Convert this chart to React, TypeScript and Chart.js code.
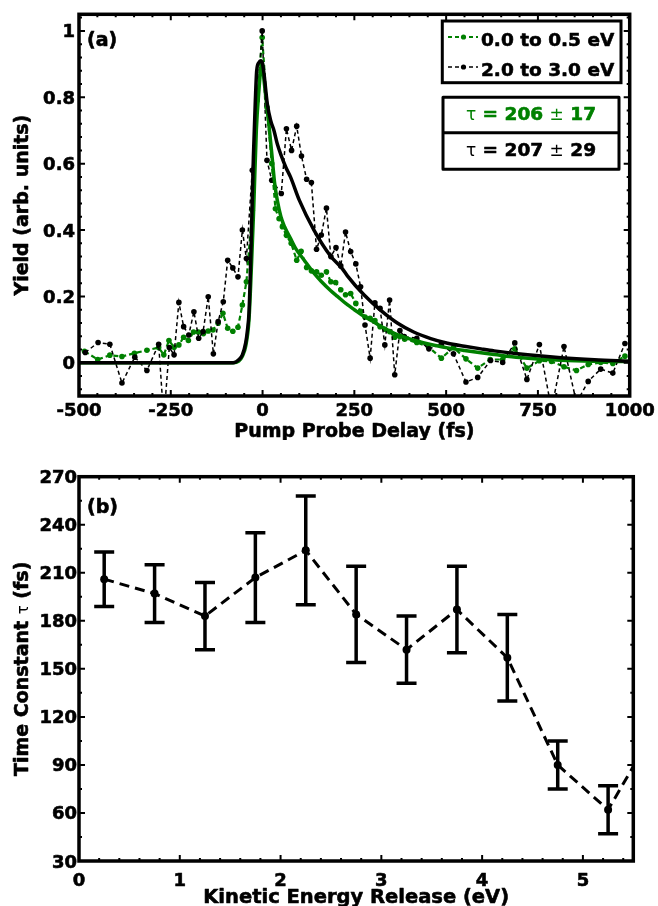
import React, { useEffect, useRef } from "react";
import { Chart, registerables } from "chart.js";

Chart.register(...registerables);

const GREEN = "rgb(0,128,0)";
const BLACK = "#000000";
const FONT = '"DejaVu Sans"';
const bold = (s: number) => `bold ${s}px ${FONT}`;
const reg = (s: number) => `${s}px ${FONT}`;

// ---------------- Panel (a): yield vs pump-probe delay ----------------
const lowKerDelay = [-485, -449, -416, -383, -349, -315, -283, -269, -255, -241, -228, -215, -202, -188, -175, -161, -148, -135, -121, -108, -95, -81, -67, -55, -44, -28, -15, -1, 12, 25, 35, 45, 54, 65, 78, 93, 105, 120, 133, 147, 160, 174, 186, 199, 213, 226, 240, 254, 267, 279, 293, 306, 320, 333, 346, 360, 374, 387, 420, 452, 487, 520, 554, 586, 620, 654, 687, 720, 754, 787, 821, 855, 887, 921, 954, 987];
const lowKerYield = [0.035, 0.01, 0.023, 0.019, 0.029, 0.038, 0.046, 0.024, 0.067, 0.047, 0.054, 0.077, 0.067, 0.093, 0.093, 0.088, 0.096, 0.099, 0.119, 0.149, 0.104, 0.095, 0.107, 0.174, 0.244, 0.46, 0.79, 0.98, 0.77, 0.6, 0.464, 0.434, 0.41, 0.384, 0.36, 0.309, 0.336, 0.287, 0.277, 0.274, 0.264, 0.274, 0.244, 0.242, 0.22, 0.205, 0.209, 0.179, 0.155, 0.138, 0.134, 0.127, 0.109, 0.101, 0.094, 0.077, 0.079, 0.071, 0.061, 0.048, 0.014, 0.046, 0.012, -0.016, 0.01, 0.01, 0.042, -0.016, 0.006, 0.004, -0.012, -0.023, -0.005, 0.001, -0.002, 0.02];

const highKerDelay = [-483, -448, -416, -383, -348, -315, -283, -269, -254, -241, -228, -215, -201, -187, -174, -162, -148, -134, -121, -107, -95, -81, -67, -55, -44, -28, -1, 12, 25, 51, 65, 79, 93, 106, 120, 133, 147, 160, 174, 186, 200, 213, 226, 240, 254, 267, 279, 293, 306, 320, 333, 346, 360, 374, 386, 420, 453, 487, 520, 554, 586, 621, 654, 687, 720, 754, 787, 821, 855, 887, 921, 954, 987];
const highKerYield = [0.031, 0.061, 0.056, -0.061, 0.017, -0.023, 0.056, -0.17, 0.046, 0.024, 0.182, 0.109, 0.084, 0.154, 0.074, 0.094, 0.199, 0.027, 0.124, 0.184, 0.309, 0.286, 0.259, 0.4, 0.314, 0.58, 1.0, 0.61, 0.55, 0.51, 0.705, 0.64, 0.713, 0.623, 0.553, 0.543, 0.342, 0.385, 0.466, 0.32, 0.347, 0.292, 0.394, 0.335, 0.298, 0.229, 0.114, 0.014, 0.181, 0.164, 0.054, 0.189, -0.036, 0.097, 0.079, 0.074, 0.042, 0.056, 0.027, -0.058, -0.044, 0.007, 0.001, 0.06, -0.05, 0.055, -0.14, 0.049, -0.12, -0.056, -0.019, -0.031, 0.058];

const lowFitDelay = [-500, -80, -65, -55, -46, -37, -30, -24, -17, -10, -4, -1, 4, 10, 17, 26, 33, 40, 50, 60, 76, 90, 113, 140, 160, 185, 204, 231, 250, 276, 300, 322, 367, 413, 458, 504, 550, 595, 631, 700, 813, 900, 1000];
const lowFitYield = [0, 0, 0.005, 0.02, 0.05, 0.13, 0.3, 0.47, 0.7, 0.82, 0.895, 0.905, 0.85, 0.79, 0.72, 0.62, 0.54, 0.49, 0.44, 0.41, 0.375, 0.345, 0.31, 0.27, 0.245, 0.218, 0.2, 0.175, 0.16, 0.14, 0.125, 0.11, 0.085, 0.068, 0.055, 0.045, 0.037, 0.03, 0.025, 0.016, 0.008, 0.005, 0.004];

const highFitDelay = [-500, -80, -65, -55, -46, -41, -37, -33, -29, -25, -20, -16, -10, -5, 0, 4, 13, 22, 31, 40, 63, 76, 100, 140, 185, 217, 231, 276, 322, 367, 413, 458, 504, 550, 595, 631, 722, 813, 904, 1000];
const highFitYield = [0, 0, 0.009, 0.024, 0.06, 0.1, 0.15, 0.28, 0.45, 0.62, 0.78, 0.88, 0.905, 0.91, 0.9, 0.87, 0.78, 0.73, 0.7, 0.66, 0.59, 0.56, 0.49, 0.4, 0.322, 0.284, 0.262, 0.205, 0.158, 0.12, 0.092, 0.073, 0.059, 0.05, 0.042, 0.036, 0.024, 0.015, 0.009, 0.005];

const delayTicks = [-500, -250, 0, 250, 500, 750, 1000];
const yieldTicks = [0, 0.2, 0.4, 0.6, 0.8, 1];
const seriesLabels = ["0.0 to 0.5 eV", "2.0 to 3.0 eV"];
const fitTau = [206, 207];
const fitTauErr = [17, 29];

// ---------------- Panel (b): time constant vs KER ----------------
const kerCenters = [0.25, 0.75, 1.25, 1.75, 2.25, 2.75, 3.25, 3.75, 4.25, 4.75, 5.25, 5.75];
const tauConst = [206, 197, 183, 207, 224, 184, 162, 187, 157, 90, 62, 116];
const tauErr = [17, 18, 21, 28, 34, 30, 21, 27, 27, 15, 15, 0];
const kerTicks = [0, 1, 2, 3, 4, 5];
const tauTicks = [30, 60, 90, 120, 150, 180, 210, 240, 270];

type Seg = { t: string; font: string; color: string; heavy?: boolean };

function heavyText(ctx: CanvasRenderingContext2D, t: string, x: number, y: number, color: string, heavy = true) {
  ctx.fillStyle = color;
  ctx.fillText(t, x, y);
  if (heavy) {
    ctx.strokeStyle = color;
    ctx.lineWidth = 0.6;
    ctx.lineJoin = "round";
    ctx.strokeText(t, x, y);
  }
}

function drawRich(ctx: CanvasRenderingContext2D, segs: Seg[], x: number, y: number, align: "left" | "center") {
  let total = 0;
  const widths = segs.map((s) => {
    ctx.font = s.font;
    const w = ctx.measureText(s.t).width;
    total += w;
    return w;
  });
  let cx = align === "center" ? x - total / 2 : x;
  ctx.textAlign = "left";
  ctx.textBaseline = "alphabetic";
  segs.forEach((s, i) => {
    ctx.font = s.font;
    heavyText(ctx, s.t, cx, y, s.color, s.heavy !== false);
    cx += widths[i];
  });
}

type AxesOpts = {
  id: string;
  xMajors: number[];
  xMinor: number;
  yMajors: number[];
  yMinor: number;
  xFmt: (v: number) => string;
  yFmt: (v: number) => string;
  tickFont: string;
  capH: number;
  yLabelGap: number;
  xLabelBaseline: number;
  xTitle: Seg[];
  xTitleBaseline: number;
  yTitle: Seg[];
  yTitleX: number;
  panelLabel: string;
  panelLabelPos: [number, number];
};

function axesPlugin(o: AxesOpts) {
  return {
    id: o.id,
    afterDraw(chart: any) {
      const ctx: CanvasRenderingContext2D = chart.ctx;
      const ca = chart.chartArea;
      const xs = chart.scales.x;
      const ys = chart.scales.y;
      ctx.save();
      ctx.strokeStyle = BLACK;
      ctx.lineWidth = 2;
      ctx.beginPath();
      const isMajor = (arr: number[], v: number) => arr.some((m) => Math.abs(m - v) < 1e-6);
      const x0 = Math.ceil(xs.min / o.xMinor - 1e-9);
      const x1 = Math.floor(xs.max / o.xMinor + 1e-9);
      for (let i = x0; i <= x1; i++) {
        const v = i * o.xMinor;
        const px = xs.getPixelForValue(v);
        const len = isMajor(o.xMajors, v) ? 6 : 3;
        ctx.moveTo(px, ca.bottom);
        ctx.lineTo(px, ca.bottom - len);
        ctx.moveTo(px, ca.top);
        ctx.lineTo(px, ca.top + len);
      }
      const y0 = Math.ceil(ys.min / o.yMinor - 1e-9);
      const y1 = Math.floor(ys.max / o.yMinor + 1e-9);
      for (let i = y0; i <= y1; i++) {
        const v = i * o.yMinor;
        const py = ys.getPixelForValue(v);
        const len = isMajor(o.yMajors, v) ? 6 : 3;
        ctx.moveTo(ca.left, py);
        ctx.lineTo(ca.left + len, py);
        ctx.moveTo(ca.right, py);
        ctx.lineTo(ca.right - len, py);
      }
      ctx.stroke();
      ctx.lineWidth = 3.5;
      ctx.strokeRect(ca.left, ca.top, ca.right - ca.left, ca.bottom - ca.top);

      ctx.font = o.tickFont;
      ctx.textBaseline = "alphabetic";
      ctx.textAlign = "right";
      o.yMajors.forEach((v) => {
        const py = ys.getPixelForValue(v);
        heavyText(ctx, o.yFmt(v), ca.left - o.yLabelGap, py + o.capH / 2, BLACK);
      });
      ctx.textAlign = "center";
      o.xMajors.forEach((v) => {
        const px = xs.getPixelForValue(v);
        heavyText(ctx, o.xFmt(v), px, o.xLabelBaseline, BLACK);
      });
      drawRich(ctx, o.xTitle, (ca.left + ca.right) / 2, o.xTitleBaseline, "center");
      ctx.save();
      ctx.translate(o.yTitleX, (ca.top + ca.bottom) / 2);
      ctx.rotate(-Math.PI / 2);
      drawRich(ctx, o.yTitle, 0, 0, "center");
      ctx.restore();
      ctx.font = bold(19);
      ctx.textAlign = "left";
      heavyText(ctx, o.panelLabel, o.panelLabelPos[0], o.panelLabelPos[1], BLACK);
      ctx.restore();
    },
  };
}

const legendPluginA = {
  id: "legendA",
  afterDraw(chart: any) {
    const ctx: CanvasRenderingContext2D = chart.ctx;
    ctx.save();
    ctx.strokeStyle = BLACK;
    ctx.lineWidth = 3;
    ctx.strokeRect(442.3, 21, 178.7, 61.7);
    const colors = [GREEN, BLACK];
    const rowY = [37, 67];
    seriesLabels.forEach((lab, i) => {
      ctx.strokeStyle = colors[i];
      ctx.fillStyle = colors[i];
      ctx.lineWidth = i === 0 ? 2 : 1.5;
      ctx.setLineDash([4, 3]);
      ctx.beginPath();
      ctx.moveTo(448, rowY[i]);
      ctx.lineTo(478, rowY[i]);
      ctx.stroke();
      ctx.setLineDash([]);
      ctx.beginPath();
      ctx.arc(463.5, rowY[i], 2.6, 0, Math.PI * 2);
      ctx.fill();
      ctx.font = bold(18.5);
      ctx.textAlign = "left";
      ctx.textBaseline = "alphabetic";
      heavyText(ctx, lab, 481, rowY[i] + 9, BLACK);
    });
    ctx.strokeStyle = BLACK;
    ctx.lineWidth = 3;
    ctx.strokeRect(443, 97.3, 176, 72);
    ctx.beginPath();
    ctx.moveTo(443, 132.7);
    ctx.lineTo(619, 132.7);
    ctx.stroke();
    const tauY = [119.5, 156];
    fitTau.forEach((t, i) => {
      const c = colors[i];
      drawRich(
        ctx,
        [
          { t: "τ", font: reg(17), color: c, heavy: false },
          { t: " = " + t + " ", font: bold(18.5), color: c },
          { t: "±", font: reg(17), color: c, heavy: false },
          { t: " " + fitTauErr[i], font: bold(18.5), color: c },
        ],
        531,
        tauY[i],
        "center"
      );
    });
    ctx.restore();
  },
};

const errorBarPluginB = {
  id: "errB",
  afterDatasetsDraw(chart: any) {
    const ctx: CanvasRenderingContext2D = chart.ctx;
    const ca = chart.chartArea;
    const xs = chart.scales.x;
    const ys = chart.scales.y;
    ctx.save();
    ctx.beginPath();
    ctx.rect(ca.left, ca.top, ca.right - ca.left, ca.bottom - ca.top);
    ctx.clip();
    ctx.strokeStyle = BLACK;
    ctx.lineWidth = 3.5;
    ctx.beginPath();
    kerCenters.forEach((k, i) => {
      const e = tauErr[i];
      if (!e) return;
      const px = xs.getPixelForValue(k);
      const pt = ys.getPixelForValue(tauConst[i] + e);
      const pb = ys.getPixelForValue(tauConst[i] - e);
      ctx.moveTo(px, pt);
      ctx.lineTo(px, pb);
      ctx.moveTo(px - 10, pt);
      ctx.lineTo(px + 10, pt);
      ctx.moveTo(px - 10, pb);
      ctx.lineTo(px + 10, pb);
    });
    ctx.stroke();
    ctx.restore();
  },
};

const pts = (xs: number[], ys: number[]) => xs.map((x, i) => ({ x, y: ys[i] }));

function PanelA() {
  const ref = useRef<HTMLCanvasElement | null>(null);
  useEffect(() => {
    const chart = new Chart(ref.current as HTMLCanvasElement, {
      type: "line",
      data: {
        datasets: [
          {
            label: "fit 2.0-3.0",
            data: pts(highFitDelay, highFitYield),
            borderColor: BLACK,
            borderWidth: 3.5,
            pointRadius: 0,
            cubicInterpolationMode: "monotone",
            clip: 0,
          } as any,
          {
            label: "fit 0.0-0.5",
            data: pts(lowFitDelay, lowFitYield),
            borderColor: GREEN,
            borderWidth: 3.5,
            pointRadius: 0,
            cubicInterpolationMode: "monotone",
            clip: 0,
          },
          {
            label: seriesLabels[1],
            data: pts(highKerDelay, highKerYield),
            borderColor: BLACK,
            backgroundColor: BLACK,
            borderWidth: 1.5,
            borderDash: [4, 3],
            pointRadius: 2.8,
            pointBorderWidth: 0,
            tension: 0,
            clip: 0,
          },
          {
            label: seriesLabels[0],
            data: pts(lowKerDelay, lowKerYield),
            borderColor: GREEN,
            backgroundColor: GREEN,
            borderWidth: 2.2,
            borderDash: [5, 3],
            pointRadius: 2.8,
            pointBorderWidth: 0,
            tension: 0,
            clip: 0,
          },
        ],
      },
      options: {
        responsive: false,
        animation: false,
        layout: { padding: { left: 79, right: 28.3, top: 14.3, bottom: 44 } },
        scales: {
          x: { type: "linear", min: -500, max: 1000, display: false },
          y: { type: "linear", min: -0.1, max: 1.05, display: false },
        },
        plugins: { legend: { display: false }, tooltip: { enabled: false } },
      },
      plugins: [
        axesPlugin({
          id: "axesA",
          xMajors: delayTicks,
          xMinor: 50,
          yMajors: yieldTicks,
          yMinor: 0.04,
          xFmt: (v) => String(v),
          yFmt: (v) => String(v),
          tickFont: bold(18),
          capH: 13,
          yLabelGap: 4,
          xLabelBaseline: 416,
          xTitle: [{ t: "Pump Probe Delay (fs)", font: bold(19), color: BLACK }],
          xTitleBaseline: 437,
          yTitle: [{ t: "Yield (arb. units)", font: bold(19), color: BLACK }],
          yTitleX: 28,
          panelLabel: "(a)",
          panelLabelPos: [87, 46],
        }),
        legendPluginA,
      ],
    });
    return () => chart.destroy();
  }, []);
  return <canvas ref={ref} width={658} height={440} style={{ position: "absolute", left: 0, top: 0 }} />;
}

function PanelB() {
  const ref = useRef<HTMLCanvasElement | null>(null);
  useEffect(() => {
    const chart = new Chart(ref.current as HTMLCanvasElement, {
      type: "line",
      data: {
        datasets: [
          {
            label: "tau",
            data: pts(kerCenters, tauConst),
            borderColor: BLACK,
            backgroundColor: BLACK,
            borderWidth: 3,
            borderDash: [10, 6],
            pointRadius: 4,
            pointBorderWidth: 0,
            tension: 0,
            clip: 0,
          },
        ],
      },
      options: {
        responsive: false,
        animation: false,
        layout: { padding: { left: 79, right: 24.7, top: 36.7, bottom: 45 } },
        scales: {
          x: { type: "linear", min: 0, max: 5.5, display: false },
          y: { type: "linear", min: 30, max: 270, display: false },
        },
        plugins: { legend: { display: false }, tooltip: { enabled: false } },
      },
      plugins: [
        errorBarPluginB,
        axesPlugin({
          id: "axesB",
          xMajors: kerTicks,
          xMinor: 0.2,
          yMajors: tauTicks,
          yMinor: 15,
          xFmt: (v) => String(v),
          yFmt: (v) => String(v),
          tickFont: bold(18),
          capH: 13,
          yLabelGap: 2,
          xLabelBaseline: 445.5,
          xTitle: [{ t: "Kinetic Energy Release (eV)", font: bold(19.5), color: BLACK }],
          xTitleBaseline: 463,
          yTitle: [
            { t: "Time Constant ", font: bold(19), color: BLACK },
            { t: "τ", font: reg(15), color: BLACK, heavy: false },
            { t: " (fs)", font: bold(19), color: BLACK },
          ],
          yTitleX: 28,
          panelLabel: "(b)",
          panelLabelPos: [87, 73],
        }),
      ],
    });
    return () => chart.destroy();
  }, []);
  return <canvas ref={ref} width={658} height={466} style={{ position: "absolute", left: 0, top: 440 }} />;
}

export default function App() {
  return (
    <div style={{ position: "absolute", left: 0, top: 0, width: 658, height: 906, background: "#fff" }}>
      <PanelA />
      <PanelB />
    </div>
  );
}
